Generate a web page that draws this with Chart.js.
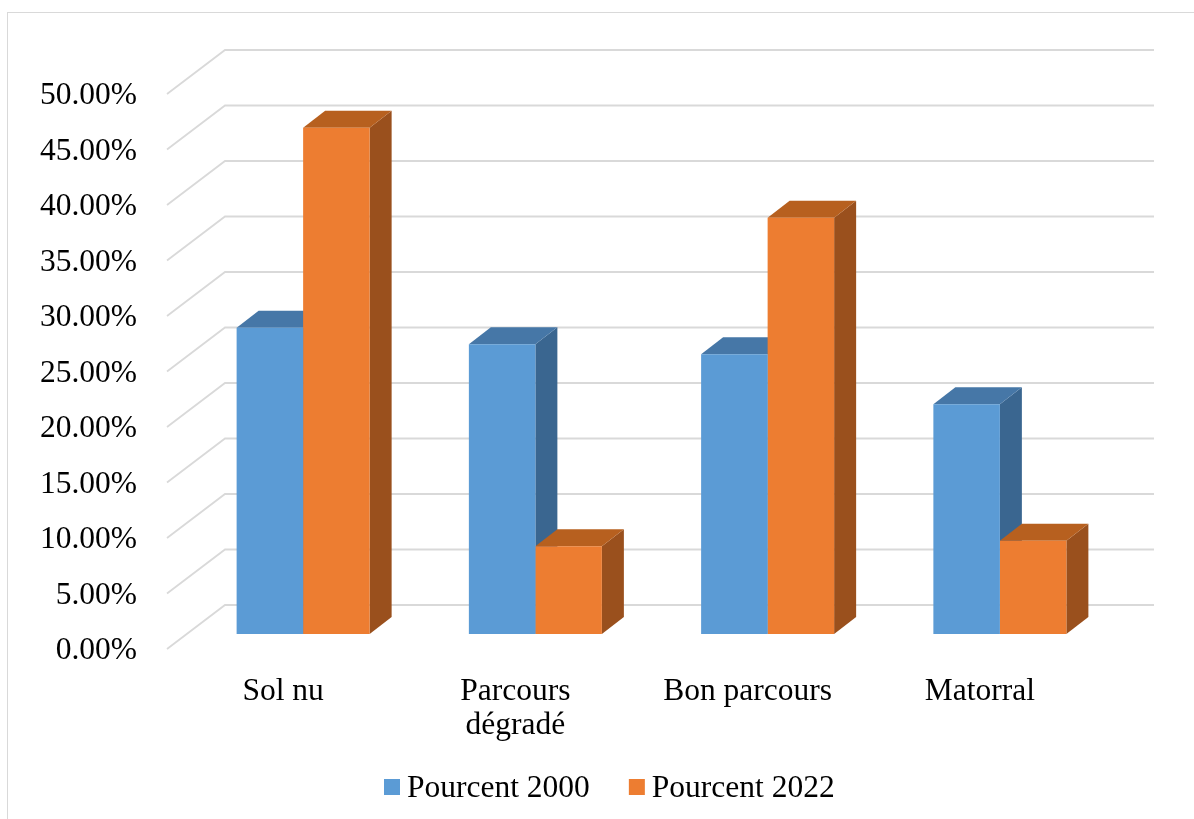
<!DOCTYPE html>
<html>
<head>
<meta charset="utf-8">
<script src="https://cdn.jsdelivr.net/npm/chart.js@4.4.1/dist/chart.umd.min.js"></script>
<style>
html,body{margin:0;padding:0;background:#fff;}
#wrap{width:1194px;height:819px;position:relative;}
</style>
</head>
<body>
<div id="wrap"><canvas id="c" width="1194" height="819"></canvas></div>
<script>
// ---- data ----
const categories = ['Sol nu', ['Parcours', 'dégradé'], 'Bon parcours', 'Matorral'];
const seriesLabels = ['Pourcent 2000', 'Pourcent 2022'];
const pourcent2000 = [27.6, 26.1, 25.2, 20.7];
const pourcent2022 = [45.6, 7.9, 37.5, 8.4];
const yMin = 0, yMax = 50, yStep = 5;

// ---- 3D geometry (pixel offsets relative to the bar front plane) ----
const FRONT = {dx: -20, dy: 15};   // front edge of side wall / floor
const BACK = {dx: 38, dy: -29};    // back wall
const BAR = {dx: 22, dy: -17};     // bar depth

const FONT = "'Liberation Serif', 'Times New Roman', serif";
const FSIZE = 31.5;

const threeD = {
  id: 'threeD',
  beforeDraw(chart) {
    const ctx = chart.ctx;
    ctx.save();
    ctx.strokeStyle = '#d9d9d9';
    ctx.lineWidth = 1;
    ctx.strokeRect(7.5, 12.5, 1200, 820);
    ctx.restore();
  },
  beforeDatasetsDraw(chart) {
    const ctx = chart.ctx;
    const a = chart.chartArea;
    const ys = chart.scales.y;
    ctx.save();
    ctx.strokeStyle = '#d9d9d9';
    ctx.lineWidth = 1.8;
    ys.ticks.forEach(t => {
      const py = ys.getPixelForValue(t.value);
      ctx.beginPath();
      ctx.moveTo(a.left + FRONT.dx, py + FRONT.dy);
      ctx.lineTo(a.left + BACK.dx, py + BACK.dy);
      ctx.lineTo(a.right + BACK.dx, py + BACK.dy);
      ctx.stroke();
    });
    chart.data.datasets.forEach((ds, i) => {
      const meta = chart.getDatasetMeta(i);
      meta.data.forEach(bar => {
        const p = bar.getProps(['x', 'y', 'base', 'width'], true);
        const l = p.x - p.width / 2, r = p.x + p.width / 2;
        ctx.fillStyle = ds.sideColor;
        ctx.beginPath();
        ctx.moveTo(r, p.y);
        ctx.lineTo(r + BAR.dx, p.y + BAR.dy);
        ctx.lineTo(r + BAR.dx, p.base + BAR.dy);
        ctx.lineTo(r, p.base);
        ctx.closePath();
        ctx.fill();
        ctx.fillStyle = ds.topColor;
        ctx.beginPath();
        ctx.moveTo(l, p.y);
        ctx.lineTo(l + BAR.dx, p.y + BAR.dy);
        ctx.lineTo(r + BAR.dx, p.y + BAR.dy);
        ctx.lineTo(r, p.y);
        ctx.closePath();
        ctx.fill();
      });
    });
    ctx.restore();
  },
  afterDraw(chart) {
    // legend
    const ctx = chart.ctx;
    ctx.save();
    ctx.font = FSIZE + 'px ' + FONT;
    ctx.textBaseline = 'alphabetic';
    ctx.textAlign = 'left';
    let x = 384;
    const boxTop = 779, baseline = 797;
    chart.data.datasets.forEach(ds => {
      ctx.fillStyle = ds.backgroundColor;
      ctx.fillRect(x, boxTop, 16, 16);
      x += 16 + 7;
      ctx.fillStyle = '#000';
      ctx.fillText(ds.label, x, baseline);
      x += ctx.measureText(ds.label).width + 39;
    });
    ctx.restore();
  }
};

new Chart(document.getElementById('c'), {
  type: 'bar',
  data: {
    labels: categories,
    datasets: [
      {label: seriesLabels[0], data: pourcent2000, backgroundColor: '#5b9bd5',
       topColor: '#4677a7', sideColor: '#3a6690'},
      {label: seriesLabels[1], data: pourcent2022, backgroundColor: '#ed7d31',
       topColor: '#b7601f', sideColor: '#9a501d'}
    ]
  },
  options: {
    responsive: false,
    devicePixelRatio: 1,
    animation: false,
    categoryPercentage: 0.5727,
    barPercentage: 1,
    layout: {padding: {left: 0, right: 78, top: 79, bottom: 57}},
    plugins: {
      tooltip: {enabled: false},
      legend: {display: false}
    },
    scales: {
      x: {
        grid: {display: false},
        border: {display: false},
        ticks: {
          font: {family: FONT, size: FSIZE, lineHeight: 1.1},
          color: '#000',
          padding: 32,
          labelOffset: -20,
          maxRotation: 0,
          autoSkip: false
        },
        afterFit(s) { s.height = 128; }
      },
      y: {
        min: yMin,
        max: yMax,
        grid: {display: false},
        border: {display: false},
        ticks: {
          stepSize: yStep,
          font: {family: FONT, size: FSIZE},
          color: '#000',
          padding: 42,
          labelOffset: 17,
          callback: v => v.toFixed(2) + '%'
        },
        afterFit(s) { s.width = 187; }
      }
    }
  },
  plugins: [threeD]
});
</script>
</body>
</html>
